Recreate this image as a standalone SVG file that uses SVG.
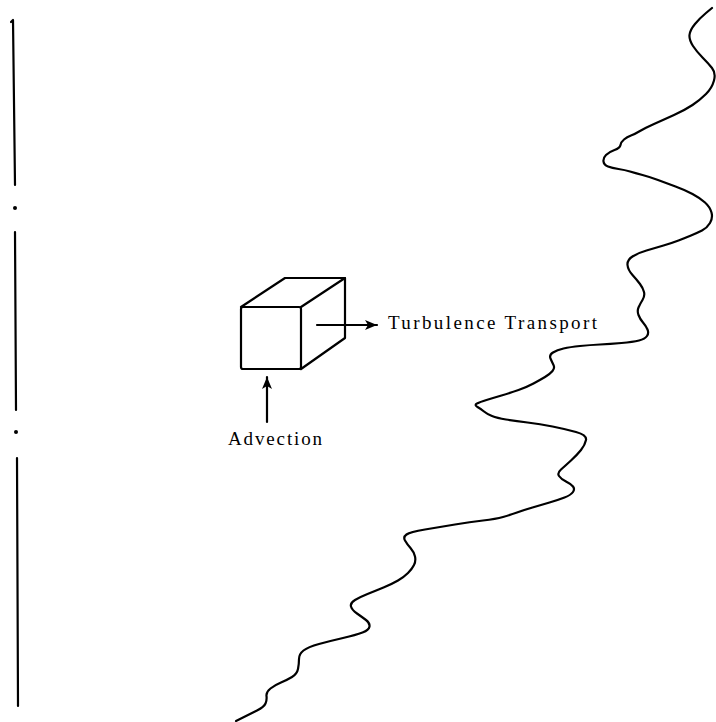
<svg xmlns="http://www.w3.org/2000/svg" width="716" height="722" viewBox="0 0 716 722">
<style>
.ln{fill:none;stroke:#000;stroke-width:2.2;stroke-linecap:round;stroke-linejoin:round}
.lbl{font-family:"Liberation Serif","Times New Roman",serif;font-size:19px;fill:#000}
</style>
<defs>
<marker id="ah" markerUnits="userSpaceOnUse" markerWidth="14" markerHeight="12" refX="12" refY="6" orient="auto">
<path d="M0,1 L12,6 L0,11 L3,6 Z" fill="#000"/>
</marker>
</defs>
<rect width="716" height="722" fill="#fff"/>
<g id="left-line">
<path class="ln" stroke-width="2.8" d="M11,22 L13,20 L15,185"/>
<circle cx="15" cy="208" r="2" fill="#000"/>
<path class="ln" stroke-width="2.8" d="M15,232 L16,410"/>
<circle cx="16" cy="432" r="2" fill="#000"/>
<path class="ln" stroke-width="2.8" d="M17,458 L18,706"/>
</g>
<g id="boundary">
<path class="ln" d="M712,8 L706,13 Q700,18 695,24 Q690,30 689.5,35 Q689,40 693,46 Q697,52 702.5,57.5 Q708,63 712,68 Q716,73 714,80.5 Q712,88 706,94 Q700,100 692.5,105 Q685,110 674,115 Q663,120 654,124 Q645,128 640,131 Q635,134 631,135.5 Q627,137 624,139.5 Q621,142 620.5,145 Q620,148 614.5,150 Q609,152 606,155 Q603,158 603.5,161.5 Q604,165 608,166.5 Q612,168 618.5,169 Q625,170 630,171.5 Q635,173 642.5,175 Q650,177 658,180 Q666,183 675.5,186.5 Q685,190 692.5,194 Q700,198 705,202.5 Q710,207 711.5,212.5 Q713,218 710,223 Q707,228 702,230.5 Q697,233 691,235.5 Q685,238 678.5,240.5 Q672,243 663.5,245.5 Q655,248 646.5,250.5 Q638,253 632.5,256.5 Q627,260 627.5,265 Q628,270 632.5,275 Q637,280 640,284 Q643,288 644,292 Q645,296 642.5,300 Q640,304 638.5,307.5 Q637,311 638.5,315 Q640,319 643,322.5 Q646,326 647.5,329.5 Q649,333 647,336 Q645,339 639,340.5 Q633,342 621.5,343 Q610,344 600,344.5 Q590,345 580,346 Q570,347 563.5,348.5 Q557,350 553,352.5 Q549,355 550.5,358.5 Q552,362 553.5,365 Q555,368 552.5,371 Q550,374 545,377 Q540,380 533.5,383.5 Q527,387 518.5,390 Q510,393 501.5,395.5 Q493,398 486.5,400 Q480,402 477,403.5 Q474,405 477.5,407 Q481,409 484,411.5 Q487,414 492,416 Q497,418 506,419.5 Q515,421 527.5,422.5 Q540,424 552.5,426.5 Q565,429 576,432 Q587,435 586,440 Q585,445 581,450 Q577,455 571,460.5 Q565,466 561,469.5 Q557,473 559,476 Q561,479 566,481.5 Q571,484 573,486.5 Q575,489 573,492 Q571,495 564.5,497.5 Q558,500 549.5,502.5 Q541,505 532.5,507.5 Q524,510 517,512.5 Q510,515 503,517 Q496,519 483,520.5 Q470,522 455,524.5 Q440,527 425,529.5 Q410,532 406.5,534.5 Q403,537 405,540.5 Q407,544 410.5,548 Q414,552 415,556.5 Q416,561 414,565 Q412,569 408,573 Q404,577 398,580.5 Q392,584 383.5,587.5 Q375,591 367.5,594 Q360,597 355,600 Q350,603 351,606.5 Q352,610 357,613.5 Q362,617 366,620 Q370,623 369.5,626.5 Q369,630 362.5,632.5 Q356,635 343,638 Q330,641 319,644 Q308,647 303.5,650.5 Q299,654 299,659 Q299,664 298,669 Q297,674 292,677 Q287,680 281,682.5 Q275,685 270.5,688.5 Q266,692 266.5,696 Q267,700 265.5,703.5 Q264,707 257,710.5 Q250,714 243,717.5 L236,721"/>
</g>
<g id="cube">
<rect class="ln" x="241" y="307" width="60" height="62" rx="2"/>
<path class="ln" d="M241,307 L285,278 L345,278 L301,307"/>
<path class="ln" d="M345,278 L345,338 L301,369"/>
</g>
<g id="connectors">
<line class="ln" x1="317" y1="325" x2="377" y2="325" stroke-width="1.6" marker-end="url(#ah)"/>
<line class="ln" x1="267" y1="422" x2="267" y2="377" stroke-width="2.2" marker-end="url(#ah)"/>
</g>
<g id="label-turbulence">
<text class="lbl" x="388" y="329" textLength="209" lengthAdjust="spacing">Turbulence Transport</text>
</g>
<g id="label-advection">
<text class="lbl" x="228" y="445" textLength="94" lengthAdjust="spacing">Advection</text>
</g>
</svg>
